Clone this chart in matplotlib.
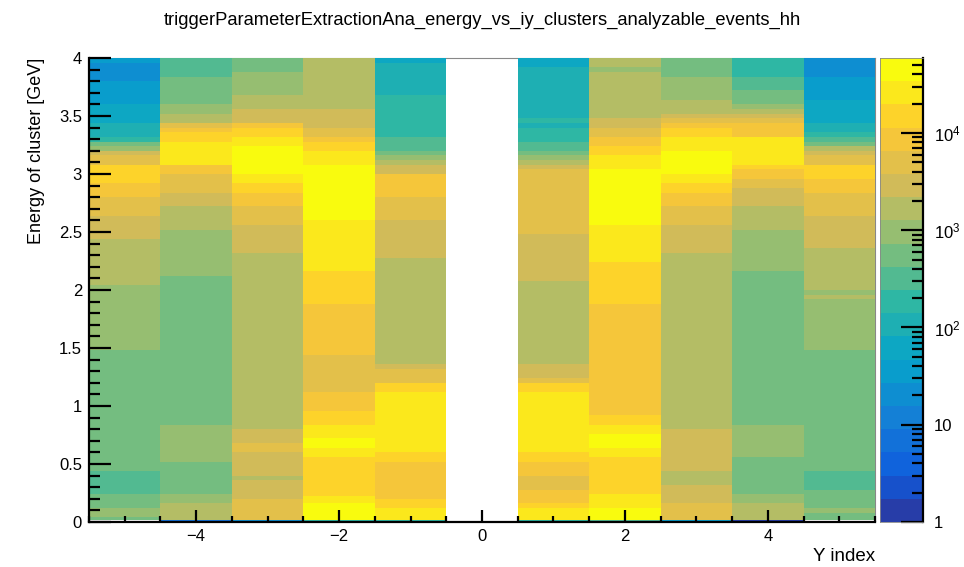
import numpy as np
import matplotlib
matplotlib.use("Agg")
import matplotlib.pyplot as plt
from matplotlib.colors import LinearSegmentedColormap, ListedColormap, BoundaryNorm
from matplotlib.ticker import FixedLocator, MultipleLocator, FormatStrFormatter, NullFormatter

plt.rcParams['font.family'] = ['Liberation Sans', 'DejaVu Sans']
plt.rcParams['mathtext.fontset'] = 'custom'
plt.rcParams['mathtext.rm'] = 'Liberation Sans'
plt.rcParams['mathtext.it'] = 'Liberation Sans'

# cluster counts per iy column: bin edges in energy [GeV] and counts (0 = empty)
edges_m5 = [0.0, 0.02, 0.04, 0.12, 0.24, 0.44, 1.48, 2.04, 2.44, 2.64, 2.80, 2.92, 3.08, 3.16, 3.20, 3.24, 3.28, 3.32, 3.44, 3.60, 3.80, 3.96, 4.0]
counts_m5 = [0, 555, 960, 555, 320, 555, 960, 1670, 2900, 5000, 8700, 15000, 5000, 2900, 960, 555, 185, 107, 62, 36, 20, 36]

edges_m4 = [0.0, 0.02, 0.16, 0.24, 0.52, 0.84, 2.12, 2.52, 2.72, 2.84, 3.0, 3.08, 3.28, 3.36, 3.40, 3.44, 3.52, 3.60, 3.84, 4.0]
counts_m4 = [7, 1670, 960, 555, 960, 555, 960, 1670, 2900, 5000, 8700, 26000, 15000, 8700, 5000, 1670, 960, 555, 320]

edges_m3 = [0.0, 0.02, 0.2, 0.36, 0.4, 0.6, 0.68, 0.8, 2.32, 2.56, 2.72, 2.84, 2.92, 3.0, 3.24, 3.32, 3.4, 3.44, 3.56, 3.68, 3.88, 4.0]
counts_m3 = [20, 5000, 2900, 1670, 2900, 5000, 2900, 1670, 2900, 5000, 8700, 15000, 26000, 45000, 26000, 15000, 8700, 2900, 1670, 960, 555]

edges_m2 = [0.0, 0.02, 0.16, 0.22, 0.56, 0.64, 0.72, 0.84, 0.96, 1.12, 1.44, 1.88, 2.16, 2.6, 3.08, 3.2, 3.28, 3.32, 3.4, 3.56, 4.0]
counts_m2 = [185, 45000, 26000, 15000, 26000, 45000, 26000, 15000, 8700, 5000, 8700, 15000, 26000, 45000, 26000, 15000, 8700, 5000, 2900, 1670]

edges_m1 = [0.0, 0.02, 0.12, 0.2, 0.52, 0.6, 1.12, 1.2, 1.32, 1.36, 2.28, 2.6, 2.8, 3.0, 3.08, 3.12, 3.16, 3.2, 3.32, 3.68, 3.96, 4.0]
counts_m1 = [185, 26000, 15000, 8700, 15000, 26000, 15000, 5000, 2900, 1670, 2900, 5000, 8700, 2900, 1670, 960, 555, 320, 185, 107, 62]

edges_p1 = [0.0, 0.02, 0.12, 0.16, 0.28, 0.4, 0.52, 0.6, 1.12, 1.2, 1.24, 1.36, 2.08, 2.48, 3.04, 3.08, 3.12, 3.16, 3.2, 3.28, 3.4, 3.44, 3.48, 3.92, 4.0]
counts_p1 = [185, 26000, 15000, 8700, 5000, 8700, 15000, 26000, 15000, 5000, 2900, 1670, 2900, 5000, 2900, 1670, 960, 555, 320, 185, 107, 185, 107, 62]

edges_p2 = [0.0, 0.02, 0.12, 0.24, 0.56, 0.64, 0.76, 0.84, 0.92, 1.88, 2.24, 2.56, 3.04, 3.16, 3.24, 3.32, 3.4, 3.48, 3.88, 3.92, 4.0]
counts_p2 = [320, 45000, 26000, 15000, 26000, 45000, 26000, 15000, 8700, 15000, 26000, 45000, 26000, 15000, 8700, 5000, 2900, 1670, 960, 1670]

edges_p3 = [0.0, 0.02, 0.16, 0.32, 0.44, 0.8, 2.32, 2.56, 2.72, 2.84, 2.92, 3.0, 3.2, 3.32, 3.4, 3.44, 3.48, 3.52, 3.64, 3.84, 4.0]
counts_p3 = [36, 5000, 2900, 1670, 2900, 1670, 2900, 5000, 8700, 15000, 26000, 45000, 26000, 15000, 8700, 5000, 2900, 1670, 960, 555]

edges_p4 = [0.0, 0.02, 0.16, 0.24, 0.56, 0.84, 2.16, 2.52, 2.72, 2.88, 2.96, 3.04, 3.08, 3.32, 3.44, 3.48, 3.52, 3.56, 3.6, 3.72, 3.84, 4.0]
counts_p4 = [1, 1670, 960, 555, 960, 555, 960, 1670, 2900, 5000, 8700, 15000, 26000, 8700, 5000, 2900, 1670, 960, 555, 320, 185]

edges_p5 = [0.0, 0.02, 0.08, 0.12, 0.28, 0.44, 1.48, 1.92, 1.96, 2.0, 2.36, 2.64, 2.84, 2.96, 3.08, 3.16, 3.2, 3.24, 3.28, 3.32, 3.36, 3.44, 3.64, 3.84, 4.0]
counts_p5 = [0, 555, 960, 555, 320, 555, 960, 1670, 960, 1670, 2900, 5000, 8700, 15000, 5000, 2900, 1670, 555, 320, 185, 107, 62, 36, 20]

iy_values = [-5, -4, -3, -2, -1, 1, 2, 3, 4, 5]
all_edges = [edges_m5, edges_m4, edges_m3, edges_m2, edges_m1, edges_p1, edges_p2, edges_p3, edges_p4, edges_p5]
all_counts = [counts_m5, counts_m4, counts_m3, counts_m2, counts_m1, counts_p1, counts_p2, counts_p3, counts_p4, counts_p5]

zmin, zmax = 1.0, 5.9e4
ncont = 20

# ROOT kBird palette, 255 colours, 20 contours
stops = [0.0, 0.125, 0.25, 0.375, 0.5, 0.625, 0.75, 0.875, 1.0]
red = [0.2082, 0.0592, 0.0780, 0.0232, 0.1802, 0.5301, 0.8186, 0.9956, 0.9764]
green = [0.1664, 0.3599, 0.5041, 0.6419, 0.7178, 0.7492, 0.7328, 0.7862, 0.9832]
blue = [0.5293, 0.8684, 0.8385, 0.7914, 0.6425, 0.4662, 0.3499, 0.1968, 0.0539]
bird = LinearSegmentedColormap.from_list('bird', list(zip(stops, zip(red, green, blue))), N=255)
band_cols = [bird(int((i + 0.99) * 255 / ncont)) for i in range(ncont)]
cmap = ListedColormap(band_cols)
levels = np.logspace(np.log10(zmin), np.log10(zmax), ncont + 1)
norm = BoundaryNorm(levels, ncont)

fig = plt.figure(figsize=(9.64, 5.67), dpi=100)
ax = fig.add_axes([89/964, 1-522/567, 786/964, 464/567])

for iy, e, c in zip(iy_values, all_edges, all_counts):
    c = np.ma.masked_less_equal(np.array(c, dtype=float), 0).reshape(-1, 1)
    ax.pcolormesh([iy - 0.5, iy + 0.5], e, c, cmap=cmap, norm=norm,
                  edgecolor='none', antialiased=False, zorder=3)

ax.set_xlim(-5.5, 5.5)
ax.set_ylim(0, 4)
for s in ['top', 'right']:
    ax.spines[s].set_linewidth(0.8)
    ax.spines[s].set_color('#888888')
for s in ['left', 'bottom']:
    ax.spines[s].set_linewidth(1.6)
    ax.spines[s].set_zorder(5)
ax.xaxis.set_zorder(5)
ax.yaxis.set_zorder(5)

ax.xaxis.set_major_locator(FixedLocator([-4, -2, 0, 2, 4]))
ax.xaxis.set_minor_locator(MultipleLocator(0.5))
ax.yaxis.set_major_locator(MultipleLocator(0.5))
ax.yaxis.set_minor_locator(MultipleLocator(0.1))
ax.yaxis.set_major_formatter(FormatStrFormatter('%g'))
ax.tick_params(axis='x', which='major', direction='in', length=9, width=1.6, labelsize=12, pad=5)
ax.tick_params(axis='x', which='minor', direction='in', length=4.5, width=1.6)
ax.tick_params(axis='y', which='major', direction='in', length=16, width=1.6, labelsize=12, pad=5)
ax.tick_params(axis='y', which='minor', direction='in', length=8, width=1.6)

ax.set_xlabel('Y index', fontsize=13.5, loc='right', labelpad=3)
ax.set_ylabel('Energy of cluster [GeV]', fontsize=13, loc='top', labelpad=10)
fig.text(0.5, 1-20/567, 'triggerParameterExtractionAna_energy_vs_iy_clusters_analyzable_events_hh',
         ha='center', va='center', fontsize=13.2)

# palette axis
cax = fig.add_axes([880/964, 1-522/567, 43/964, 464/567])
cax.pcolormesh([0, 1], levels, np.arange(ncont).reshape(-1, 1), cmap=cmap,
               vmin=-0.5, vmax=ncont - 0.5, edgecolor='none', antialiased=False)
cax.set_yscale('log')
cax.set_ylim(zmin, zmax)
cax.set_xlim(0, 1)
cax.set_xticks([])
cax.yaxis.tick_right()
cax.yaxis.set_major_locator(FixedLocator([1, 10, 100, 1000, 10000]))
cax.yaxis.set_major_formatter(plt.FixedFormatter(['1', '10', '$10^{2}$', '$10^{3}$', '$10^{4}$']))
minor = [m * 10**d for d in range(0, 5) for m in range(2, 10) if m * 10**d < zmax]
cax.yaxis.set_minor_locator(FixedLocator(minor))
cax.yaxis.set_minor_formatter(NullFormatter())
cax.tick_params(axis='y', which='major', direction='in', length=16, width=1.6, labelsize=12, pad=8)
cax.tick_params(axis='y', which='minor', direction='in', length=8, width=1.6)
for s in cax.spines.values():
    s.set_linewidth(0.6)
    s.set_color('#888888')
cax.spines['right'].set_color('black')
cax.spines['right'].set_linewidth(1.6)

fig.savefig('out.png', dpi=100)
